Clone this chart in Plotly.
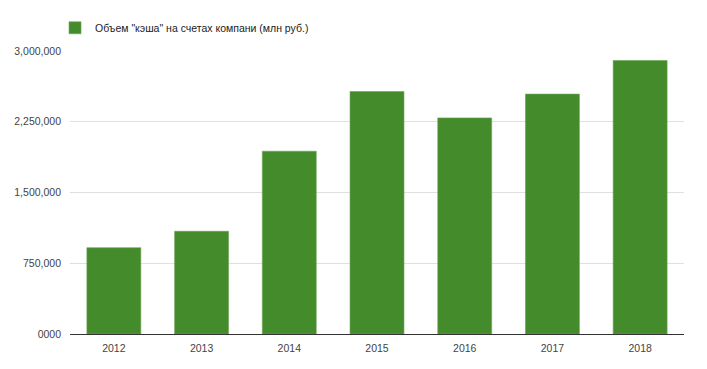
import plotly.graph_objects as go

years = ["2012", "2013", "2014", "2015", "2016", "2017", "2018"]
cash = [915000, 1089000, 1938000, 2570000, 2291000, 2543000, 2899000]
series_name = 'Объем "кэша" на счетах компани (млн руб.)'
tick_vals = [0, 750000, 1500000, 2250000, 3000000]
tick_text = ["0000", "750,000", "1,500,000", "2,250,000", "3,000,000"]

fig = go.Figure()
fig.add_trace(go.Bar(
    x=years, y=cash, name=series_name,
    marker=dict(color="#448b2b", line=dict(color="#6aa552", width=0.6)),
    showlegend=True,
))

# page body has an 8px default margin, so the figure is sized to fit the window
fig.update_layout(
    width=699, height=361,
    margin=dict(l=62, r=23, t=43, b=35, autoexpand=False),
    paper_bgcolor="white", plot_bgcolor="white",
    font=dict(family="Liberation Sans, Arial, sans-serif", size=10.5, color="#444444"),
    bargap=0.385,
    showlegend=True,
    legend=dict(orientation="h", x=-0.0244, xanchor="left", y=1.082, yanchor="middle",
                font=dict(size=10.5, color="#222222"), bgcolor="rgba(0,0,0,0)"),
    xaxis=dict(showgrid=False, showline=True, linecolor="#333333", linewidth=1,
               ticks="", ticklabelstandoff=4, tickfont=dict(size=10.5, color="#444444")),
    yaxis=dict(range=[0, 3000000], tickvals=tick_vals, ticktext=tick_text,
               showgrid=True, gridcolor="#e0e0e0", gridwidth=1, zeroline=False,
               showline=False, ticks="", ticklabelstandoff=8,
               tickfont=dict(size=10.5, color="#444444")),
)

fig.write_html("out.html")
